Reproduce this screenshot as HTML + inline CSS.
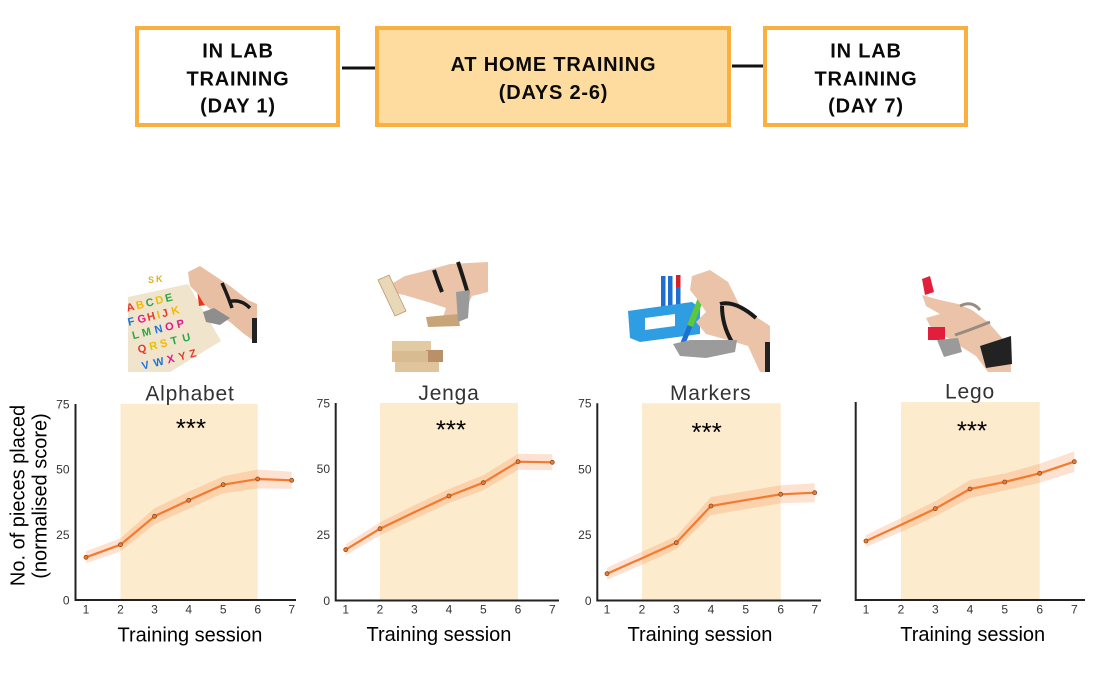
<!DOCTYPE html>
<html><head><meta charset="utf-8"><style>
html,body{margin:0;padding:0;background:#fff;}
svg{display:block;}
</style></head><body>
<svg width="1102" height="674" viewBox="0 0 1102 674" xmlns="http://www.w3.org/2000/svg" font-family="'Liberation Sans', sans-serif">
<!-- Top flow boxes -->
<line x1="342" y1="68" x2="376" y2="68" stroke="#111" stroke-width="3"/>
<line x1="732" y1="66" x2="764" y2="66" stroke="#111" stroke-width="3"/>
<rect x="137" y="28" width="201" height="97" fill="#fff" stroke="#FAB040" stroke-width="4"/>
<rect x="377" y="28" width="352" height="97" fill="#FEDB9E" stroke="#FAB040" stroke-width="4"/>
<rect x="765" y="28" width="201" height="97" fill="#fff" stroke="#FAB040" stroke-width="4"/>
<g font-weight="bold" font-size="20" fill="#0a0a0a" text-anchor="middle" letter-spacing="0.8">
<text x="238" y="57.3">IN LAB</text>
<text x="238" y="85.7">TRAINING</text>
<text x="238" y="112.3">(DAY 1)</text>
<text x="553.5" y="71">AT HOME TRAINING</text>
<text x="553.5" y="99">(DAYS 2-6)</text>
<text x="866" y="57.3">IN LAB</text>
<text x="866" y="85.7">TRAINING</text>
<text x="866" y="112.3">(DAY 7)</text>
</g>

<!-- Photo 1: alphabet puzzle -->
<g>
<polygon points="128,297 188,284 221,341 170,372 128,372" fill="#F0E4CC"/>
<g font-weight="bold" font-size="11" transform="rotate(-14 170 330)">
<text x="133" y="302" fill="#E23B2B">A</text><text x="143" y="302" fill="#F5B800">B</text><text x="153" y="302" fill="#2BA84A">C</text><text x="163" y="302" fill="#E6C200">D</text><text x="173" y="302" fill="#2BA84A">E</text>
<text x="131" y="316" fill="#1E73D8">F</text><text x="141" y="316" fill="#E2198C">G</text><text x="151" y="316" fill="#E23B2B">H</text><text x="161" y="316" fill="#F5B800">I</text><text x="166" y="316" fill="#E23B2B">J</text><text x="176" y="316" fill="#F5B800">K</text>
<text x="132" y="330" fill="#2BA84A">L</text><text x="142" y="330" fill="#2BA84A">M</text><text x="155" y="330" fill="#1E73D8">N</text><text x="166" y="330" fill="#E2198C">O</text><text x="178" y="330" fill="#E2198C">P</text>
<text x="134" y="345" fill="#E23B2B">Q</text><text x="146" y="345" fill="#E6C200">R</text><text x="157" y="345" fill="#F5B800">S</text><text x="168" y="345" fill="#2BA84A">T</text><text x="180" y="345" fill="#2BA84A">U</text>
<text x="134" y="362" fill="#1E73D8">V</text><text x="146" y="362" fill="#1E73D8">W</text><text x="160" y="362" fill="#E2198C">X</text><text x="172" y="362" fill="#E23B2B">Y</text><text x="183" y="362" fill="#E23B2B">Z</text>
</g>
<text x="148" y="283" font-weight="bold" font-size="9" fill="#E0B020">S</text><text x="156" y="282" font-weight="bold" font-size="9" fill="#E0B020">K</text>
<polygon points="197,289 210,290 212,304 199,306" fill="#E8351E"/>
<polygon points="188,272 200,266 215,276 230,286 248,300 257,304 257,343 244,334 230,322 214,312 204,304 198,294 190,286" fill="#E9BFA4"/>
<path d="M222,283 Q228,296 232,308 M228,302 Q240,298 250,308" stroke="#1a1a1a" stroke-width="3.5" fill="none"/>
<polygon points="203,312 214,308 230,318 220,325 206,322" fill="#8e8e8e"/>
<rect x="252" y="318" width="5" height="25" fill="#222"/>
</g>

<!-- Photo 2: jenga -->
<g>
<polygon points="388,286 405,276 425,271 450,264 488,262 488,292 472,296 462,318 452,326 441,323 446,308 428,302 404,295 390,292" fill="#EBC3A8"/>
<path d="M434,270 Q438,282 442,292 M458,262 Q464,280 468,294" stroke="#1a1a1a" stroke-width="4" fill="none"/>
<polygon points="378,280 389,275 406,311 395,316" fill="#E9D8B8" stroke="#B8976A" stroke-width="0.8"/>
<polygon points="426,317 458,314 460,326 428,327" fill="#C8A479"/>
<polygon points="456,292 470,290 468,318 458,322" fill="#9a9a9a"/>
<rect x="392" y="341" width="39" height="10" fill="#E2CAA3"/>
<rect x="426" y="350" width="17" height="12" fill="#B99068"/>
<rect x="392" y="351" width="36" height="11" fill="#D8BB90"/>
<rect x="395" y="362" width="44" height="10" fill="#E0C59C"/>
</g>

<!-- Photo 3: markers -->
<g>
<rect x="661" y="276" width="4.5" height="50" fill="#1E6FD0"/>
<rect x="668" y="276" width="4.5" height="50" fill="#1E6FD0"/>
<rect x="676" y="275" width="4.5" height="50" fill="#1E6FD0"/>
<rect x="676" y="275" width="4.5" height="12" fill="#D6202C"/>
<polygon points="628,311 692,302 700,308 700,334 640,342 630,338" fill="#2E9DE2"/>
<polygon points="645,318 675,314 675,326 645,330" fill="#fff"/>
<line x1="709" y1="278" x2="690" y2="326" stroke="#5CC83A" stroke-width="6"/>
<line x1="690" y1="326" x2="683" y2="343" stroke="#1E6FD0" stroke-width="5"/>
<polygon points="692,276 710,270 728,282 740,306 758,318 770,326 770,372 760,372 748,346 728,340 706,334 696,322 706,312 698,300 690,290" fill="#EBC3A8"/>
<path d="M720,304 Q735,300 756,318 M722,306 Q722,325 732,342" stroke="#1a1a1a" stroke-width="4" fill="none"/>
<polygon points="673,344 690,340 737,340 735,352 706,358 680,356" fill="#9b9b9b"/>
<rect x="765" y="342" width="5" height="30" fill="#222"/>
</g>

<!-- Photo 4: lego -->
<g>
<polygon points="922,279 930,276 934,292 925,295" fill="#E21E3C"/>
<polygon points="922,295 940,300 958,304 972,310 988,322 1002,338 1011,350 1011,372 988,372 976,356 960,346 945,336 930,326 926,318 940,314 926,306" fill="#EBC3A8"/>
<rect x="928" y="327" width="17" height="13" fill="#E21E3C"/>
<polygon points="937,340 958,338 962,352 944,357" fill="#9a9a9a"/>
<path d="M960,306 Q972,300 980,310 M955,335 Q970,330 990,322" stroke="#9a8a80" stroke-width="3" fill="none"/>
<polygon points="980,346 1011,336 1012,364 986,368" fill="#222"/>
</g>

<!-- Panel shading -->
<rect x="120.5" y="404" width="137.2" height="196" fill="#FDEBCD"/>
<rect x="380" y="403" width="138" height="197.5" fill="#FDEBCD"/>
<rect x="642" y="403.3" width="138.7" height="197.2" fill="#FDEBCD"/>
<rect x="901" y="402" width="138.7" height="198" fill="#FDEBCD"/>

<!-- Error bands -->
<g fill="#F47A30" fill-opacity="0.22">
<polygon points="86,551.3 120.5,538.2 154.5,508.3 188.7,491.8 223.2,476.2 257.7,469.5 291.7,471.8 291.7,488.8 257.7,488.5 223.2,493.2 188.7,508.8 154.5,524.3 120.5,551.2 86,563.3"/>
<polygon points="345.7,544.2 380,522.2 414.3,505.3 449,489 483.3,475.2 518,453.7 552.3,454.3 552.3,470.3 518,469.7 483.3,490.2 449,503 414.3,519.3 380,535.2 345.7,555.2"/>
<polygon points="607,567.7 642,551.7 676.3,536.2 711,497 745.7,491.2 780.7,485.3 814.7,483.2 814.7,502.2 780.7,503.3 745.7,509.2 711,515 676.3,549.2 642,564.7 607,579.7"/>
<polygon points="866,535 901,518 935.3,501.2 970,480 1004.7,473.5 1039.7,463.8 1074.3,451.4 1074.3,472 1039.7,482.8 1004.7,490.5 970,498 935.3,516.2 901,532 866,547"/>
</g>

<!-- Lines -->
<g fill="none" stroke="#F47A30" stroke-width="2.2" stroke-linejoin="round">
<polyline points="86,557.3 120.5,544.7 154.5,516.3 188.7,500.3 223.2,484.7 257.7,479 291.7,480.3"/>
<polyline points="345.7,549.7 380,528.7 414.3,512.3 449,496 483.3,482.7 518,461.7 552.3,462.3"/>
<polyline points="607,573.7 642,558.2 676.3,542.7 711,506 745.7,500.1 780.7,494.3 814.7,492.7"/>
<polyline points="866,541 901,524.9 935.3,508.7 970,489 1004.7,482 1039.7,473.3 1074.3,461.7"/>
</g>
<g fill="#F47A30" stroke="#8B4A20" stroke-width="0.8">
<circle cx="86" cy="557.3" r="2"/><circle cx="120.5" cy="544.7" r="2"/><circle cx="154.5" cy="516.3" r="2"/><circle cx="188.7" cy="500.3" r="2"/><circle cx="223.2" cy="484.7" r="2"/><circle cx="257.7" cy="479" r="2"/><circle cx="291.7" cy="480.3" r="2"/>
<circle cx="345.7" cy="549.7" r="2"/><circle cx="380" cy="528.7" r="2"/><circle cx="449" cy="496" r="2"/><circle cx="483.3" cy="482.7" r="2"/><circle cx="518" cy="461.7" r="2"/><circle cx="552.3" cy="462.3" r="2"/>
<circle cx="607" cy="573.7" r="2"/><circle cx="676.3" cy="542.7" r="2"/><circle cx="711" cy="506" r="2"/><circle cx="780.7" cy="494.3" r="2"/><circle cx="814.7" cy="492.7" r="2"/>
<circle cx="866" cy="541" r="2"/><circle cx="935.3" cy="508.7" r="2"/><circle cx="970" cy="489" r="2"/><circle cx="1004.7" cy="482" r="2"/><circle cx="1039.7" cy="473.3" r="2"/><circle cx="1074.3" cy="461.7" r="2"/>
</g>

<!-- Axes -->
<g fill="none" stroke="#222" stroke-width="2">
<polyline points="75.5,404 75.5,600 296,600"/>
<polyline points="335.7,403 335.7,600.5 559,600.5"/>
<polyline points="597.3,403.3 597.3,600.5 821,600.5"/>
<polyline points="855.7,402 855.7,600 1085,600"/>
</g>

<!-- Tick labels -->
<g font-size="12" fill="#333" text-anchor="middle">
<text x="86" y="613.5">1</text><text x="120.5" y="613.5">2</text><text x="154.5" y="613.5">3</text><text x="188.7" y="613.5">4</text><text x="223.2" y="613.5">5</text><text x="257.7" y="613.5">6</text><text x="291.7" y="613.5">7</text>
<text x="345.7" y="613.5">1</text><text x="380" y="613.5">2</text><text x="414.3" y="613.5">3</text><text x="449" y="613.5">4</text><text x="483.3" y="613.5">5</text><text x="518" y="613.5">6</text><text x="552.3" y="613.5">7</text>
<text x="607" y="613.5">1</text><text x="642" y="613.5">2</text><text x="676.3" y="613.5">3</text><text x="711" y="613.5">4</text><text x="745.7" y="613.5">5</text><text x="780.7" y="613.5">6</text><text x="814.7" y="613.5">7</text>
<text x="866" y="613.5">1</text><text x="901" y="613.5">2</text><text x="935.3" y="613.5">3</text><text x="970" y="613.5">4</text><text x="1004.7" y="613.5">5</text><text x="1039.7" y="613.5">6</text><text x="1074.3" y="613.5">7</text>
</g>
<g font-size="12" fill="#333" text-anchor="end">
<text x="69.5" y="408.3">75</text><text x="69.5" y="473.6">50</text><text x="69.5" y="539">25</text><text x="69.5" y="604.3">0</text>
<text x="330" y="407.3">75</text><text x="330" y="473.1">50</text><text x="330" y="539">25</text><text x="330" y="604.8">0</text>
<text x="591.5" y="407.6">75</text><text x="591.5" y="473.3">50</text><text x="591.5" y="539.1">25</text><text x="591.5" y="604.8">0</text>
</g>

<!-- Titles -->
<g font-size="21" fill="#333" text-anchor="middle" letter-spacing="0.8">
<text x="190" y="400.5">Alphabet</text>
<text x="449" y="400">Jenga</text>
<text x="710.7" y="400">Markers</text>
<text x="970" y="398.5">Lego</text>
</g>

<!-- Significance stars -->
<g font-size="26" fill="#000" text-anchor="middle">
<text x="191" y="437">***</text>
<text x="451" y="438.3">***</text>
<text x="706.7" y="441">***</text>
<text x="972" y="439.6">***</text>
</g>

<!-- X labels -->
<g font-size="20" fill="#000" text-anchor="middle">
<text x="190" y="641.5">Training session</text>
<text x="439" y="641">Training session</text>
<text x="700" y="641">Training session</text>
<text x="972.7" y="641">Training session</text>
</g>

<!-- Y label -->
<g font-size="20" fill="#000" text-anchor="middle">
<text transform="translate(24.5,495.5) rotate(-90)">No. of pieces placed</text>
<text transform="translate(46.5,496) rotate(-90)">(normalised score)</text>
</g>
</svg>
</body></html>
